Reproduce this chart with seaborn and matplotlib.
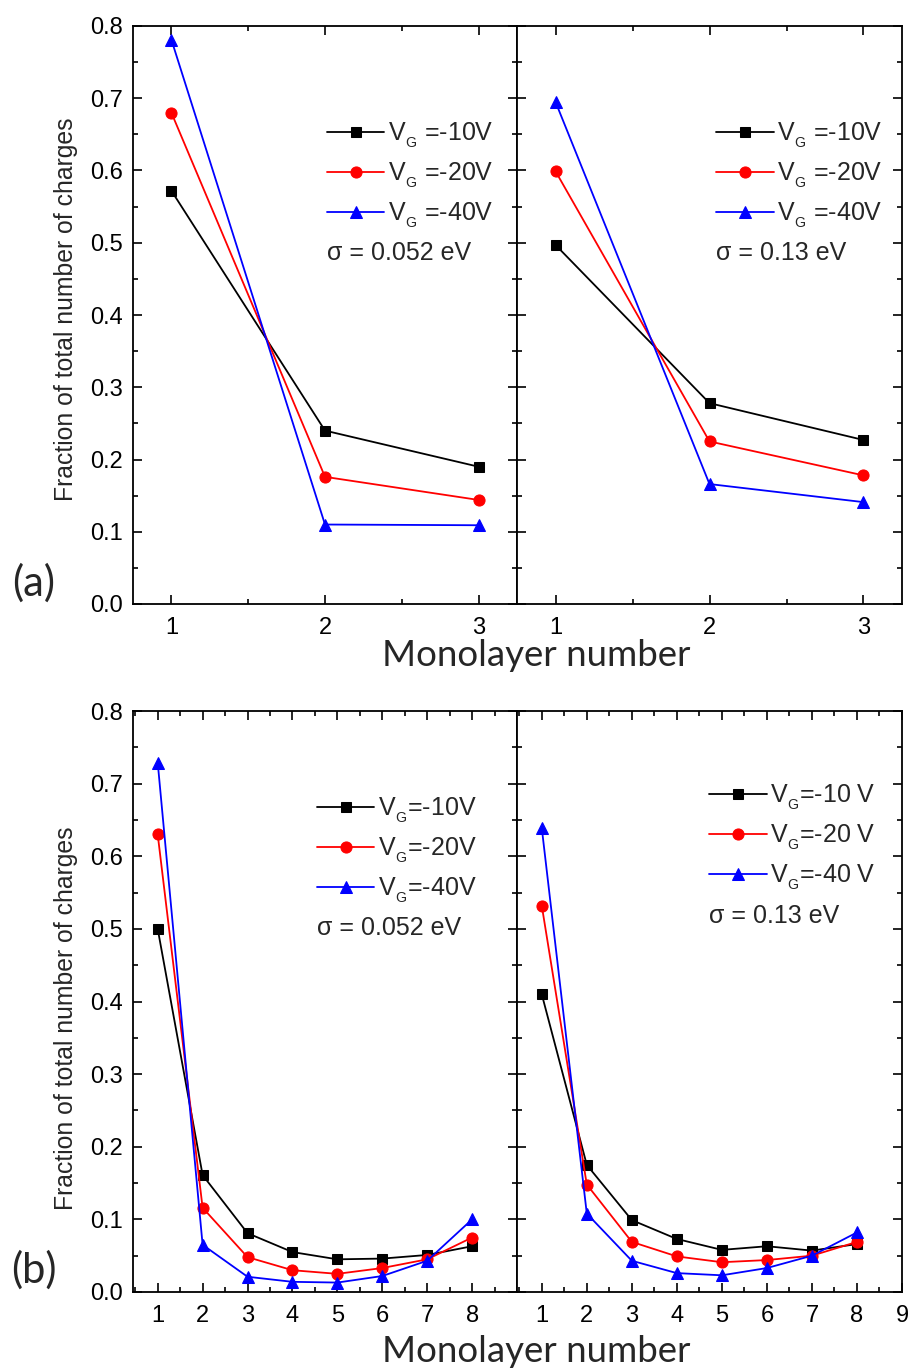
import numpy as np
import pandas as pd
import matplotlib
matplotlib.use("Agg")
import matplotlib.pyplot as plt
import matplotlib._mathtext as mathtext_impl
from matplotlib.ticker import MultipleLocator, FormatStrFormatter
import seaborn as sns

sns.set_theme(style="ticks")
plt.rcParams["font.family"] = ["Liberation Sans", "DejaVu Sans"]
plt.rcParams["mathtext.fontset"] = "custom"
plt.rcParams["mathtext.rm"] = "Liberation Sans"
plt.rcParams["mathtext.it"] = "Liberation Sans:italic"
# subscript scaling for the gate-voltage labels
mathtext_impl.SHRINK_FACTOR = 0.75

# ---- data -----------------------------------------------------------------
gate_voltages = ["-10V", "-20V", "-40V"]
layers_3 = [1, 2, 3]
layers_8 = [1, 2, 3, 4, 5, 6, 7, 8]

# (a) three monolayers
a_s052 = {
    "-10V": [0.572, 0.240, 0.190],
    "-20V": [0.680, 0.176, 0.144],
    "-40V": [0.781, 0.110, 0.109],
}
a_s13 = {
    "-10V": [0.497, 0.278, 0.227],
    "-20V": [0.599, 0.225, 0.178],
    "-40V": [0.695, 0.166, 0.141],
}
# (b) eight monolayers
b_s052 = {
    "-10V": [0.500, 0.161, 0.081, 0.055, 0.045, 0.046, 0.051, 0.063],
    "-20V": [0.630, 0.116, 0.048, 0.030, 0.025, 0.033, 0.045, 0.075],
    "-40V": [0.729, 0.065, 0.021, 0.014, 0.013, 0.022, 0.043, 0.100],
}
b_s13 = {
    "-10V": [0.410, 0.175, 0.099, 0.073, 0.058, 0.063, 0.057, 0.066],
    "-20V": [0.532, 0.148, 0.069, 0.049, 0.041, 0.044, 0.050, 0.069],
    "-40V": [0.639, 0.108, 0.043, 0.026, 0.023, 0.033, 0.050, 0.082],
}

palette = {"-10V": "black", "-20V": "red", "-40V": "blue"}
markers = {"-10V": "s", "-20V": "o", "-40V": "^"}
msize = {"-10V": 7, "-20V": 8, "-40V": 9}


def to_frame(layers, series):
    rows = []
    for vg in gate_voltages:
        for n, v in zip(layers, series[vg]):
            rows.append({"layer": n, "frac": v, "vg": vg})
    return pd.DataFrame(rows)


W, H = 912, 1370
fig = plt.figure(figsize=(W / 100, H / 100), dpi=100)


def axes_px(x0, x1, y0, y1):
    return fig.add_axes([x0 / W, 1 - y1 / H, (x1 - x0) / W, (y1 - y0) / H])


ax_a1 = axes_px(133, 517, 26, 604)
ax_a2 = axes_px(517, 902, 26, 604)
ax_b1 = axes_px(133, 517, 711, 1292)
ax_b2 = axes_px(517, 902, 711, 1292)


def draw(ax, layers, series):
    df = to_frame(layers, series)
    for vg in gate_voltages:
        sub = df[df["vg"] == vg]
        sns.lineplot(data=sub, x="layer", y="frac", color=palette[vg],
                     marker=markers[vg], markersize=msize[vg],
                     markeredgecolor=palette[vg], linewidth=1.3,
                     ax=ax, legend=False)


def style(ax, xlim, xticks, show_ylabels):
    ax.set_xlim(*xlim)
    ax.set_ylim(0, 0.8)
    ax.set_xticks(xticks)
    ax.xaxis.set_minor_locator(MultipleLocator(0.5))
    ax.yaxis.set_major_locator(MultipleLocator(0.1))
    ax.yaxis.set_minor_locator(MultipleLocator(0.05))
    ax.tick_params(which="both", direction="in", top=True, right=True,
                   width=1.2, colors="black")
    ax.tick_params(which="major", length=6.5, labelsize=17, pad=7)
    ax.tick_params(which="minor", length=3.6)
    ax.tick_params(axis="x", which="major", pad=9)
    ax.set_xlabel("")
    ax.set_ylabel("")
    if show_ylabels:
        ax.yaxis.set_major_formatter(FormatStrFormatter("%.1f"))
    else:
        ax.tick_params(axis="y", which="both", labelleft=False)
    for sp in ax.spines.values():
        sp.set_linewidth(1.3)
        sp.set_color("black")


def add_legend(ax, labels, x, ymid, sigma, sy):
    handles = ax.get_lines()[:3]
    ax.legend(handles, labels, loc="center left", bbox_to_anchor=(x, ymid),
              frameon=False, fontsize=18, numpoints=1, handlelength=2.3,
              handletextpad=0.15, labelspacing=0.43, borderpad=0,
              borderaxespad=0)
    ax.text(x, sy, sigma, transform=ax.transAxes, fontsize=18,
            va="center", ha="left")


draw(ax_a1, layers_3, a_s052)
draw(ax_a2, layers_3, a_s13)
draw(ax_b1, layers_8, b_s052)
draw(ax_b2, layers_8, b_s13)

style(ax_a1, (0.75, 3.25), layers_3, True)
style(ax_a2, (0.75, 3.25), layers_3, False)
style(ax_b1, (0.45, 9.0), layers_8, True)
style(ax_b2, (0.45, 9.0), layers_8 + [9], False)

sub_g = r"V$_{_\mathregular{G}}$"
lab_a = [sub_g + " =" + v for v in gate_voltages]
lab_b1 = [sub_g + "=" + v for v in gate_voltages]
lab_b2 = [sub_g + "=" + v.replace("V", " V") for v in gate_voltages]

add_legend(ax_a1, lab_a, 0.505, 0.742, "σ = 0.052 eV", 0.607)
add_legend(ax_a2, lab_a, 0.517, 0.742, "σ = 0.13 eV", 0.607)
add_legend(ax_b1, lab_b1, 0.479, 0.760, "σ = 0.052 eV", 0.627)
add_legend(ax_b2, lab_b2, 0.499, 0.782, "σ = 0.13 eV", 0.648)

# shared labels
ylab = "Fraction of total number of charges"
fig.text(66 / W, 1 - 309 / H, ylab, rotation=90, ha="center", va="center",
         fontsize=17.8)
fig.text(66 / W, 1 - 1018 / H, ylab, rotation=90, ha="center", va="center",
         fontsize=17.8)
fig.text(536 / W, 1 - 655 / H, "Monolayer number", ha="center", va="center",
         fontsize=26.4, family=["Lato", "DejaVu Sans"])
fig.text(536 / W, 1 - 1351 / H, "Monolayer number", ha="center", va="center",
         fontsize=26.4, family=["Lato", "DejaVu Sans"])
fig.text(34 / W, 1 - 583 / H, "(a)", ha="center", va="center",
         fontsize=30, family=["Lato", "DejaVu Sans"])
fig.text(34 / W, 1 - 1270 / H, "(b)", ha="center", va="center",
         fontsize=30, family=["Lato", "DejaVu Sans"])

fig.savefig("out.png", dpi=100, facecolor="white")
